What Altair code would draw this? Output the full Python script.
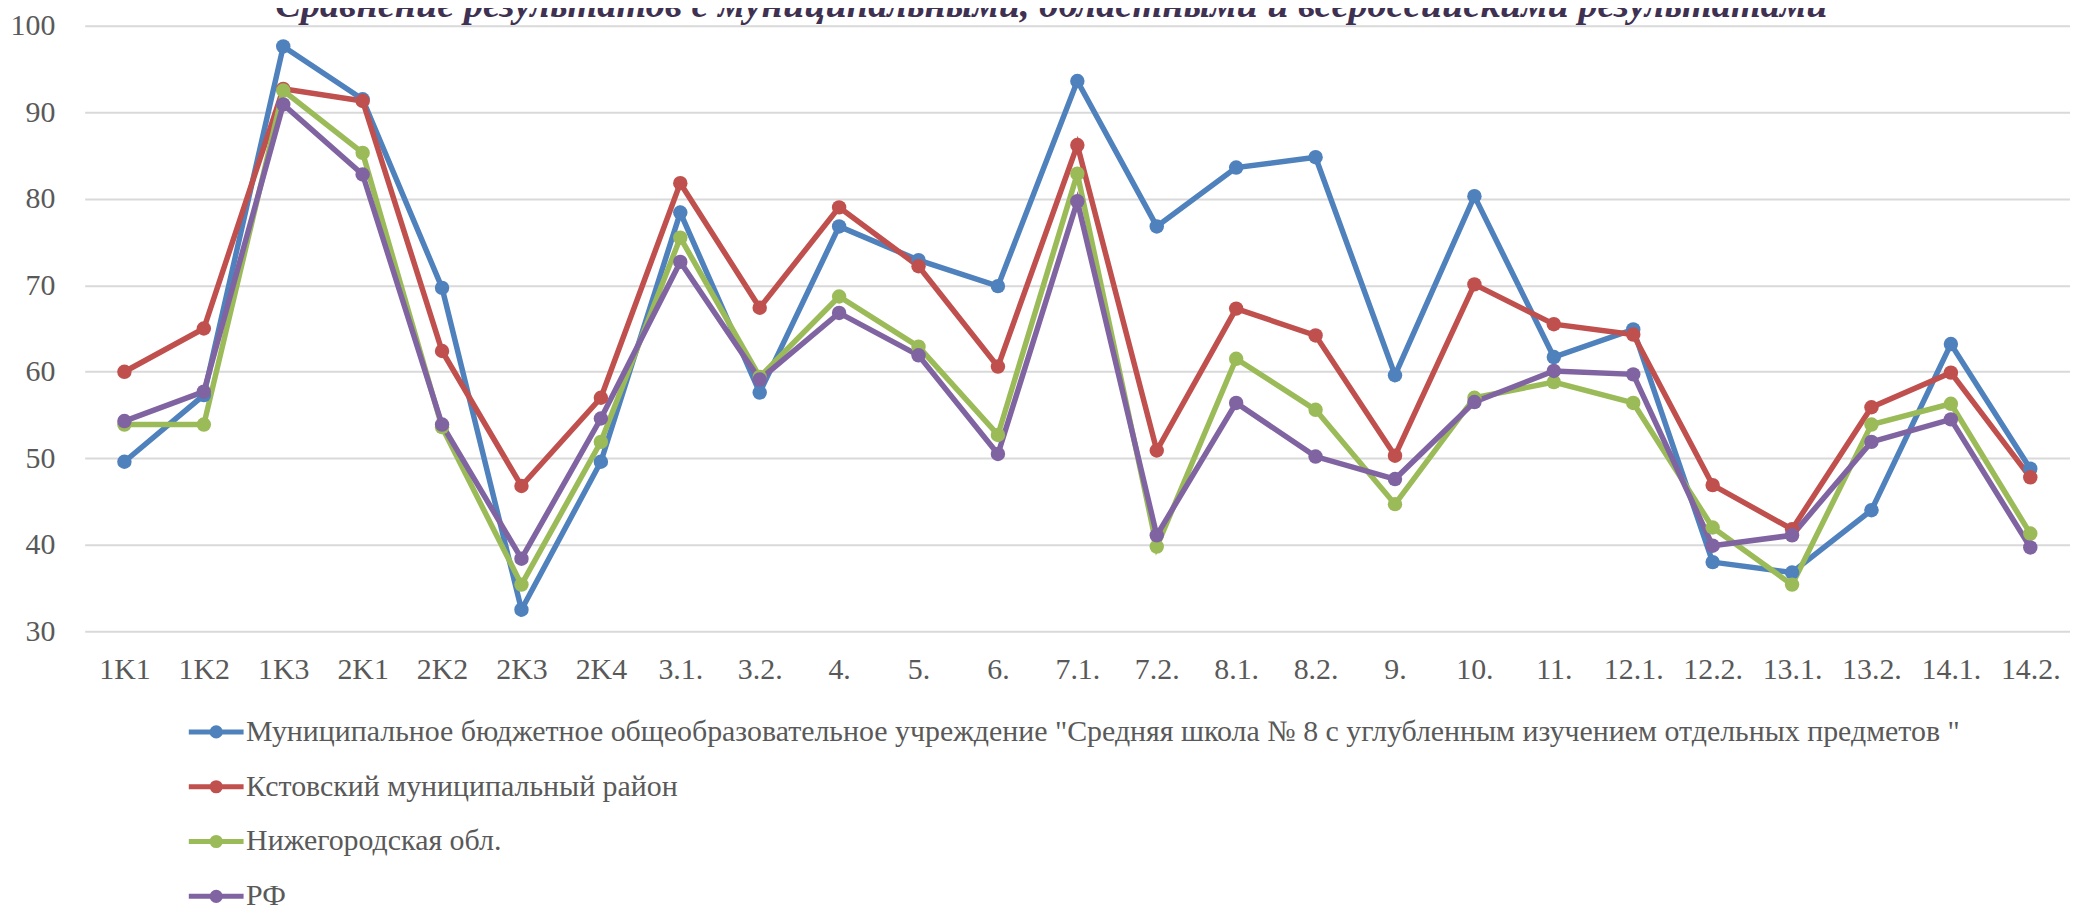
import altair as alt
import pandas as pd

categories = ["1K1", "1K2", "1K3", "2K1", "2K2", "2K3", "2K4", "3.1.", "3.2.", "4.",
              "5.", "6.", "7.1.", "7.2.", "8.1.", "8.2.", "9.", "10.", "11.", "12.1.",
              "12.2.", "13.1.", "13.2.", "14.1.", "14.2."]

series_names = [
    'Муниципальное бюджетное общеобразовательное учреждение "Средняя школа № 8 с углубленным изучением отдельных предметов  "',
    "Кстовский муниципальный район",
    "Нижегородская обл.",
    "РФ",
]

school = [49.6, 57.3, 97.6, 91.5, 69.7, 32.5, 49.6, 78.4, 57.6, 76.8, 72.9, 69.9, 93.6,
          76.8, 83.6, 84.8, 59.6, 80.3, 61.7, 64.9, 38.0, 36.8, 44.0, 63.2, 48.8]
district = [60.0, 65.0, 92.7, 91.3, 62.4, 46.8, 57.0, 81.8, 67.4, 79.0, 72.2, 60.6, 86.2,
            50.9, 67.3, 64.2, 50.3, 70.1, 65.5, 64.3, 46.9, 41.8, 55.9, 59.9, 47.8]
region = [53.9, 53.9, 92.5, 85.3, 53.6, 35.4, 51.9, 75.5, 59.4, 68.7, 62.9, 52.7, 82.9,
          39.8, 61.5, 55.6, 44.7, 57.0, 58.8, 56.4, 42.0, 35.4, 53.9, 56.3, 41.3]
russia = [54.3, 57.7, 90.9, 82.8, 53.9, 38.4, 54.6, 72.7, 59.1, 66.8, 61.9, 50.5, 79.7,
          41.1, 56.4, 50.2, 47.6, 56.5, 60.1, 59.7, 39.9, 41.1, 51.9, 54.5, 39.7]

colors = ["#4F81BD", "#C0504D", "#9BBB59", "#8064A2"]
y_ticks = [30, 40, 50, 60, 70, 80, 90, 100]
title_text = "Сравнение результатов с муниципальными, областными и всероссийскими результатами"

rows = []
for si, (name, vals) in enumerate(zip(series_names, [school, district, region, russia])):
    for ci, (cat, v) in enumerate(zip(categories, vals)):
        rows.append({"cat": cat, "series": name, "value": v, "order": si})
df = pd.DataFrame(rows)

FONT = "Liberation Serif"
symbol_path = "M-1,0L1,0M-0.15,0A0.15,0.15,0,1,1,0.15,0A0.15,0.15,0,1,1,-0.15,0Z"

color = alt.Color(
    "series:N",
    scale=alt.Scale(domain=series_names, range=colors),
    legend=alt.Legend(
        orient="none", legendX=102, legendY=679, direction="vertical", title=None,
        symbolType=symbol_path, symbolSize=3025, symbolStrokeWidth=5,
        labelFont=FONT, labelFontSize=30, labelColor="#595959", labelLimit=3000,
        rowPadding=10, labelOffset=0, padding=0, symbolOffset=0,
    ),
)

x = alt.X("cat:N", sort=categories, title=None,
          axis=alt.Axis(labelAngle=0, domain=False, ticks=False, tickSize=0, grid=False,
                        labelPadding=23, labelFont=FONT, labelFontSize=30,
                        labelColor="#595959"))
y = alt.Y("value:Q", scale=alt.Scale(domain=[30, 100], nice=False, zero=False), title=None,
          axis=alt.Axis(values=y_ticks, domain=False, ticks=False, tickSize=0,
                        grid=True, gridColor="#D9D9D9", gridWidth=2,
                        labelPadding=30, labelFont=FONT, labelFontSize=30,
                        labelColor="#595959"))

base = alt.Chart(df).encode(x=x, y=y, color=color, order=alt.Order("order:Q"))
lines = base.mark_line(strokeWidth=5.5)
points = base.mark_point(filled=True, size=210, opacity=1)

chart = alt.layer(lines, points).properties(
    width=1993,
    height=608,
    padding={"left": 2, "top": -24, "right": 0, "bottom": 0},
    title=alt.TitleParams(
        text=title_text, font=FONT, fontSize=38.5, fontStyle="italic", fontWeight="bold",
        color="#3F3151", anchor="middle", dx=-26, offset=-15,
    ),
).configure(
    font=FONT,
    style={"guide-label": {"font": FONT}, "guide-title": {"font": FONT}},
).configure_axis(
    labelFont=FONT,
).configure_legend(
    labelFont=FONT,
).configure_view(stroke=None)

chart.save("out.html", embed_options={"renderer": "svg", "actions": False})
